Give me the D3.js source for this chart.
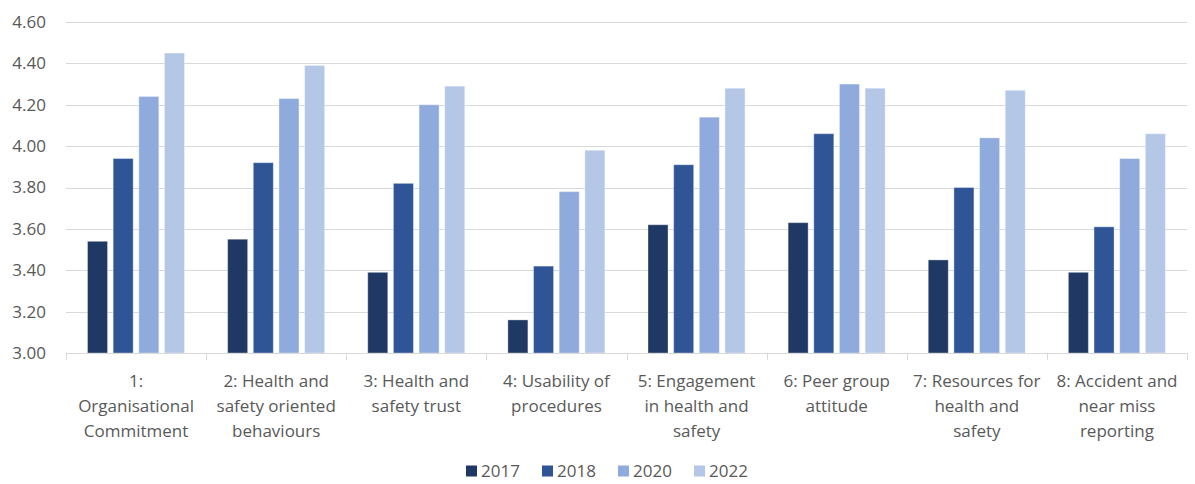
<!DOCTYPE html>
<html><head><meta charset="utf-8">
<script src="https://cdn.jsdelivr.net/npm/d3@7"></script>
<style>body{margin:0;background:#fff;} text{font-family:"Open Sans",sans-serif;fill:#595959;}</style>
</head><body>
<svg id="c" width="1195" height="484"></svg>
<script>
const categories = [
  "1:\nOrganisational\nCommitment",
  "2: Health and\nsafety oriented\nbehaviours",
  "3: Health and\nsafety trust",
  "4: Usability of\nprocedures",
  "5: Engagement\nin health and\nsafety",
  "6: Peer group\nattitude",
  "7: Resources for\nhealth and\nsafety",
  "8: Accident and\nnear miss\nreporting"
];
const seriesNames = ["2017", "2018", "2020", "2022"];
const values2017 = [3.54, 3.55, 3.39, 3.16, 3.62, 3.63, 3.45, 3.39];
const values2018 = [3.94, 3.92, 3.82, 3.42, 3.91, 4.06, 3.80, 3.61];
const values2020 = [4.24, 4.23, 4.20, 3.78, 4.14, 4.30, 4.04, 3.94];
const values2022 = [4.45, 4.39, 4.29, 3.98, 4.28, 4.28, 4.27, 4.06];
const yTicks = [3.00, 3.20, 3.40, 3.60, 3.80, 4.00, 4.20, 4.40, 4.60];
const colors = ["#203864", "#2f5597", "#8faadc", "#b4c7e7"];

const seriesValues = [values2017, values2018, values2020, values2022];
const svg = d3.select("#c");
const pLeft = 66, pRight = 1187, pTop = 22, pBottom = 353;

const y = d3.scaleLinear().domain([3.0, 4.6]).range([pBottom, pTop]);
const x0 = d3.scaleBand().domain(d3.range(categories.length)).range([pLeft, pRight]).padding(0);
const x1 = d3.scaleBand().domain(seriesNames).range([21.5, 118.5]).paddingInner(0.22);
const color = d3.scaleOrdinal().domain(seriesNames).range(colors);

// gridlines
svg.append("g").selectAll("line").data(yTicks.slice(1)).join("line")
  .attr("x1", pLeft).attr("x2", pRight)
  .attr("y1", d => Math.round(y(d)) + 0.5).attr("y2", d => Math.round(y(d)) + 0.5)
  .attr("stroke", "#d9d9d9").attr("stroke-width", 1);

// y labels
svg.append("g").selectAll("text").data(yTicks).join("text")
  .attr("x", 46).attr("y", d => y(d)).attr("dy", "0.35em")
  .attr("text-anchor", "end").style("font-size", "17px")
  .text(d => d3.format(".2f")(d));

// bars
const groups = svg.append("g").selectAll("g").data(categories).join("g")
  .attr("transform", (d, i) => `translate(${x0(i)},0)`);
groups.selectAll("rect").data((d, i) => seriesNames.map((s, j) => ({s, v: seriesValues[j][i]}))).join("rect")
  .attr("x", d => x1(d.s)).attr("width", x1.bandwidth())
  .attr("y", d => y(d.v)).attr("height", d => y(3.0) - y(d.v))
  .attr("fill", d => color(d.s)).attr("stroke", "#ffffff").attr("stroke-opacity", 0.35).attr("stroke-width", 1);

// x axis line and ticks
svg.append("line").attr("x1", pLeft).attr("x2", pRight).attr("y1", pBottom + 0.5).attr("y2", pBottom + 0.5)
  .attr("stroke", "#d9d9d9");
const boundaries = d3.range(categories.length).map(i => x0(i)).concat([pRight]);
svg.append("g").selectAll("line").data(boundaries).join("line")
  .attr("x1", d => Math.round(d) + 0.5).attr("x2", d => Math.round(d) + 0.5)
  .attr("y1", pBottom).attr("y2", pBottom + 7).attr("stroke", "#d9d9d9");

// category labels
const lab = svg.append("g").selectAll("text").data(categories).join("text")
  .attr("text-anchor", "middle").style("font-size", "17px")
  .attr("transform", (d, i) => `translate(${x0(i) + x0.bandwidth() / 2},381)`);
lab.selectAll("tspan").data(d => d.split("\n")).join("tspan")
  .attr("x", 0).attr("y", (d, k) => k * 25).attr("dy", "0.35em").text(d => d);

// legend
const legend = svg.append("g").selectAll("g").data(seriesNames).join("g")
  .attr("transform", (d, i) => `translate(${466 + i * 76},471)`);
legend.append("rect").attr("x", 0).attr("y", -5.5).attr("width", 11).attr("height", 11)
  .attr("fill", d => color(d));
legend.append("text").attr("x", 15).attr("dy", "0.35em").style("font-size", "17px").text(d => d);
</script>
</body></html>
